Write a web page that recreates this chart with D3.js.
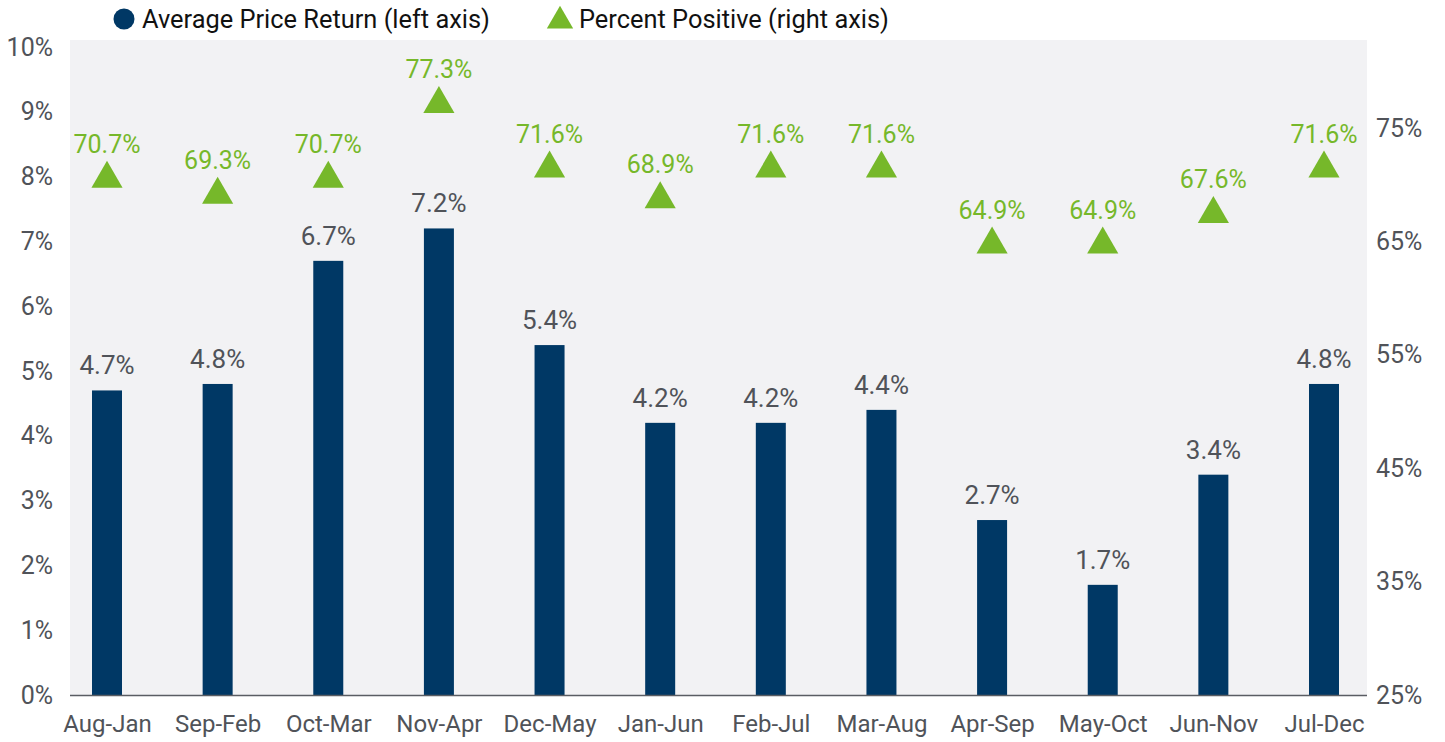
<!DOCTYPE html>
<html>
<head>
<meta charset="utf-8">
<script src="https://cdn.jsdelivr.net/npm/d3@7"></script>
<style>
  html, body { margin: 0; padding: 0; background: #ffffff; }
  svg { display: block; font-family: Roboto, "Noto Sans", sans-serif; }
</style>
</head>
<body>
<svg id="chart" width="1445" height="742"></svg>
<script>
const categories = ["Aug-Jan","Sep-Feb","Oct-Mar","Nov-Apr","Dec-May","Jan-Jun","Feb-Jul","Mar-Aug","Apr-Sep","May-Oct","Jun-Nov","Jul-Dec"];
const avgPriceReturn = [4.7, 4.8, 6.7, 7.2, 5.4, 4.2, 4.2, 4.4, 2.7, 1.7, 3.4, 4.8];
const percentPositive = [70.7, 69.3, 70.7, 77.3, 71.6, 68.9, 71.6, 71.6, 64.9, 64.9, 67.6, 71.6];
const leftTicks = [0,1,2,3,4,5,6,7,8,9,10];
const rightTicks = [25,35,45,55,65,75];
const seriesNames = ["Average Price Return (left axis)", "Percent Positive (right axis)"];

const NAVY = "#003865", GREEN = "#76b82a", GRAY = "#505359";
const svg = d3.select("#chart");

const plot = {left: 70, right: 1367, top: 40, bottom: 695};

const x = d3.scalePoint().domain(categories).range([107, 1324]);
const yL = d3.scaleLinear().domain([0, 10]).range([plot.bottom, 47]);
const yR = d3.scaleLinear().domain([25, 75]).range([plot.bottom, 128]);

// plot background
svg.append("rect")
  .attr("x", plot.left).attr("y", plot.top)
  .attr("width", plot.right - plot.left).attr("height", plot.bottom - plot.top)
  .attr("fill", "#f2f2f4");

// bars
const bw = 30;
svg.append("g").selectAll("rect").data(avgPriceReturn).join("rect")
  .attr("x", (d, i) => x(categories[i]) - bw / 2)
  .attr("y", d => yL(d))
  .attr("width", bw)
  .attr("height", d => yL(0) - yL(d))
  .attr("fill", NAVY);

// bar labels
svg.append("g").selectAll("text").data(avgPriceReturn).join("text")
  .attr("x", (d, i) => x(categories[i]))
  .attr("y", d => yL(d) - 16)
  .attr("text-anchor", "middle")
  .attr("font-size", 26)
  .attr("fill", GRAY)
  .text(d => d.toFixed(1) + "%");

// triangles
const tri = d3.symbol().type(d3.symbolTriangle).size(420);
svg.append("g").selectAll("path").data(percentPositive).join("path")
  .attr("d", tri)
  .attr("transform", (d, i) => `translate(${x(categories[i])},${yR(d) + 2})`)
  .attr("fill", GREEN);

svg.append("g").selectAll("text").data(percentPositive).join("text")
  .attr("x", (d, i) => x(categories[i]))
  .attr("y", d => yR(d) + 2 - 26)
  .attr("text-anchor", "middle")
  .attr("font-size", 25)
  .attr("fill", GREEN)
  .text(d => d.toFixed(1) + "%");

// baseline axis
svg.append("line")
  .attr("x1", plot.left).attr("x2", plot.right)
  .attr("y1", plot.bottom + 0.5).attr("y2", plot.bottom + 0.5)
  .attr("stroke", "#5a5d63").attr("stroke-width", 1.5);

// left axis
const leftAxis = svg.append("g")
  .attr("transform", `translate(${plot.left},0)`)
  .call(d3.axisLeft(yL).tickValues(leftTicks).tickSize(0).tickPadding(17).tickFormat(d => d + "%"));
leftAxis.select(".domain").remove();
leftAxis.selectAll("text").attr("font-size", 25).attr("fill", GRAY).attr("font-family", "Roboto");

// right axis
const rightAxis = svg.append("g")
  .attr("transform", `translate(${plot.right},0)`)
  .call(d3.axisRight(yR).tickValues(rightTicks).tickSize(0).tickPadding(9).tickFormat(d => d + "%"));
rightAxis.select(".domain").remove();
rightAxis.selectAll("text").attr("font-size", 25).attr("fill", GRAY).attr("font-family", "Roboto");

// bottom axis labels
const bottomAxis = svg.append("g")
  .attr("transform", `translate(0,${plot.bottom})`)
  .call(d3.axisBottom(x).tickSize(0).tickPadding(20));
bottomAxis.select(".domain").remove();
bottomAxis.selectAll("text").attr("font-size", 24).attr("fill", GRAY).attr("font-family", "Roboto");

// legend
const leg = svg.append("g");
leg.append("circle").attr("cx", 124).attr("cy", 19).attr("r", 10.5).attr("fill", NAVY);
leg.append("text").attr("x", 142).attr("y", 28).attr("font-size", 25.4).attr("fill", "#111")
  .text(seriesNames[0]);
leg.append("path").attr("d", d3.symbol().type(d3.symbolTriangle).size(300))
  .attr("transform", "translate(560,21)").attr("fill", GREEN);
leg.append("text").attr("x", 579).attr("y", 28).attr("font-size", 25.4).attr("fill", "#111")
  .text(seriesNames[1]);
</script>
</body>
</html>
